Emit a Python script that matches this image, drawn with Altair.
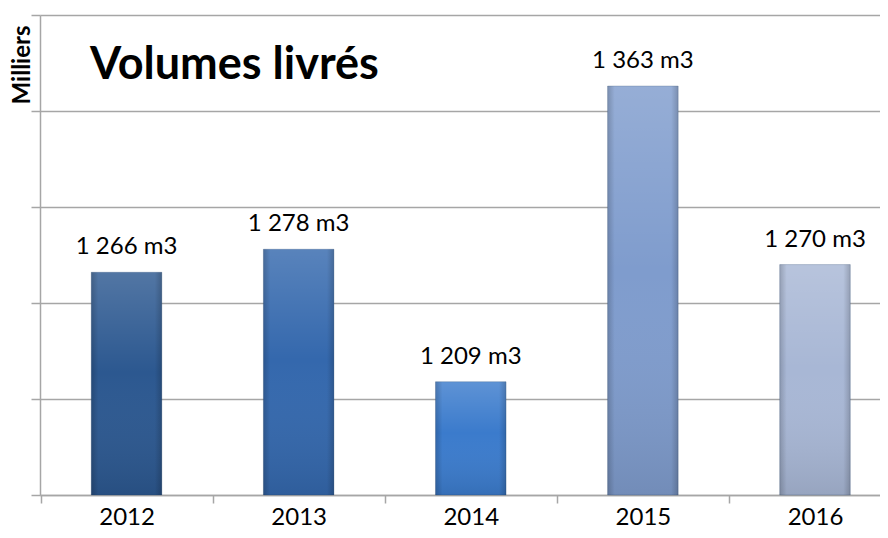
import altair as alt
import pandas as pd

years = ["2012", "2013", "2014", "2015", "2016"]
volumes = [1266, 1278, 1209, 1363, 1270]
labels = ["1 266 m3", "1 278 m3", "1 209 m3", "1 363 m3", "1 270 m3"]
title_text = ["Volumes livrés"]
y_ticks = [1150, 1200, 1250, 1300, 1350, 1400]
bar_colors = ["#2C5890", "#3468AD", "#3B7BCC", "#7F9CCD", "#A8B7D5"]

df = pd.DataFrame({"year": years, "volume": volumes, "label": labels})
tdf = pd.DataFrame({"t": title_text})

GRID = "#A6A6A6"
FONT = "Lato"

x_enc = alt.X(
    "year:N",
    sort=years,
    title=None,
    scale=alt.Scale(paddingInner=0.59, paddingOuter=0.2353, align=0.633),
    axis=alt.Axis(
        labelAngle=0,
        tickOffset=-86,
        labelOffset=86,
        tickSize=8,
        tickColor=GRID,
        tickWidth=1.5,
        domainColor=GRID,
        domainWidth=1.5,
        labelFont=FONT,
        labelFontSize=24,
        labelColor="#000000",
        labelPadding=2,
        grid=False,
    ),
)

y_scale = alt.Scale(domain=[y_ticks[0], y_ticks[-1]], zero=False, nice=False)
y_enc = alt.Y(
    "volume:Q",
    scale=y_scale,
    axis=alt.Axis(
        values=y_ticks,
        labels=False,
        title="Milliers",
        titleFont=FONT,
        titleFontSize=24,
        titleFontWeight="bold",
        titleColor="#000000",
        titleAngle=270,
        titleAlign="right",
        titleBaseline="middle",
        titleX=-18,
        titleY=10,
        tickSize=9,
        tickColor=GRID,
        tickWidth=1.5,
        domainColor=GRID,
        domainWidth=1.5,
        grid=True,
        gridColor=GRID,
        gridWidth=1.5,
    ),
)

base = alt.Chart(df)

bars = base.mark_bar(stroke="#1F3F66", strokeOpacity=0.25, strokeWidth=1).encode(
    x=x_enc,
    y=y_enc,
    y2=alt.datum(y_ticks[0]),
    color=alt.Color("year:N", sort=years, scale=alt.Scale(domain=years, range=bar_colors), legend=None),
)

shade_v = base.mark_bar(
    color=alt.Gradient(
        gradient="linear",
        stops=[
            alt.GradientStop(color="rgba(255,255,255,0.18)", offset=0),
            alt.GradientStop(color="rgba(255,255,255,0.0)", offset=0.45),
            alt.GradientStop(color="rgba(0,0,0,0.10)", offset=1),
        ],
        x1=0, x2=0, y1=0, y2=1,
    )
).encode(x=alt.X("year:N", sort=years), y=alt.Y("volume:Q"), y2=alt.datum(y_ticks[0]))

shade_h = base.mark_bar(
    color=alt.Gradient(
        gradient="linear",
        stops=[
            alt.GradientStop(color="rgba(0,0,0,0.18)", offset=0),
            alt.GradientStop(color="rgba(0,0,0,0.0)", offset=0.1),
            alt.GradientStop(color="rgba(0,0,0,0.0)", offset=0.9),
            alt.GradientStop(color="rgba(0,0,0,0.18)", offset=1),
        ],
        x1=0, x2=1, y1=0, y2=0,
    )
).encode(x=alt.X("year:N", sort=years), y=alt.Y("volume:Q"), y2=alt.datum(y_ticks[0]))

text = base.mark_text(
    dy=-18, baseline="alphabetic", align="center", font=FONT, fontSize=24, color="#000000"
).encode(x=alt.X("year:N", sort=years), y=alt.Y("volume:Q"), text="label:N")

title = alt.Chart(tdf).mark_text(
    align="left", baseline="alphabetic", font=FONT, fontSize=45, fontWeight="bold", color="#000000"
).encode(x=alt.value(50), y=alt.value(64), text="t:N")

chart = (
    alt.layer(bars, shade_v, shade_h, text, title)
    .properties(
        width=840,
        height=480,
        autosize=alt.AutoSizeParams(type="none"),
        padding={"left": 32, "top": 7, "right": 0, "bottom": 34},
        background="#FFFFFF",
    )
    .configure_view(stroke=None)
)

chart.save("out.html", embed_options={"renderer": "svg", "actions": False})
